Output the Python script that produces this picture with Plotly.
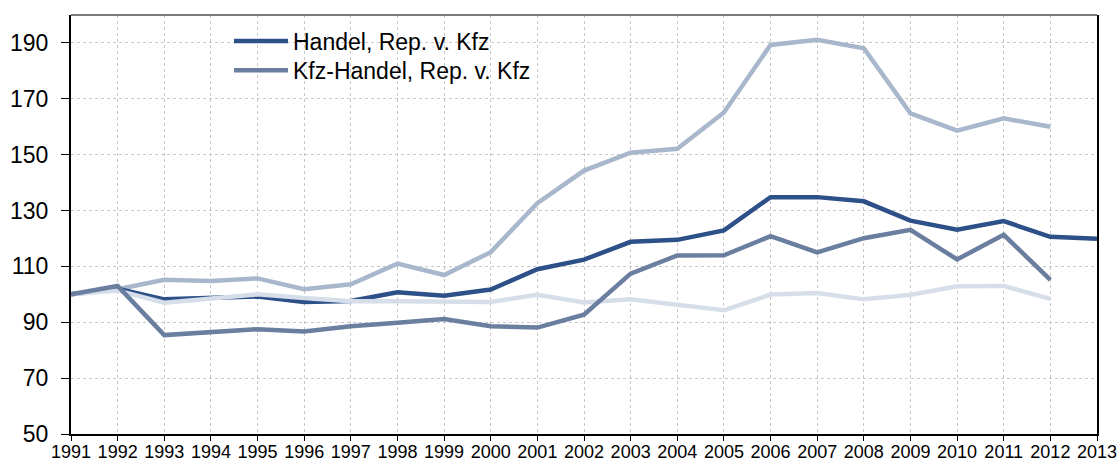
import plotly.graph_objects as go

years = list(range(1991, 2014))
years_12 = list(range(1991, 2013))

handel = [100, 102, 98.2, 98.7, 99.2, 97.3, 97.6, 100.7, 99.5, 101.7, 109.0, 112.4,
          118.8, 119.5, 122.9, 134.8, 134.8, 133.3, 126.4, 123.1, 126.2, 120.6, 119.9]
kfz_handel = [100, 103.0, 85.4, 86.6, 87.5, 86.7, 88.6, 89.8, 91.2, 88.6, 88.1, 92.7,
              107.4, 113.9, 114.0, 120.8, 115.0, 120.1, 123.1, 112.5, 121.3, 105.2]
series_light = [100, 101.8, 105.2, 104.8, 105.7, 101.8, 103.6, 111.0, 106.9, 115.1, 132.6, 144.3,
                150.7, 152.1, 165.1, 189.3, 191.1, 188.1, 164.8, 158.6, 163.0, 160.0]
series_pale = [100, 101.4, 97.0, 98.4, 100.0, 98.7, 97.5, 97.5, 97.5, 97.3, 99.8, 97.1,
               98.2, 96.3, 94.3, 99.9, 100.5, 98.2, 99.8, 102.9, 103.0, 98.4]

names = ["Handel, Rep. v. Kfz", "Kfz-Handel, Rep. v. Kfz", "Reihe 3", "Reihe 4"]
colors = ["#2d5088", "#6a7ea0", "#a8b7cb", "#d6dee9"]

y_ticks = [50, 70, 90, 110, 130, 150, 170, 190]

LW = 4.5
fig = go.Figure()
fig.add_trace(go.Scatter(x=years_12, y=series_light, mode="lines", name=names[2],
                         line=dict(color=colors[2], width=LW), showlegend=False))
fig.add_trace(go.Scatter(x=years, y=handel, mode="lines", name=names[0],
                         line=dict(color=colors[0], width=LW), legend="legend"))
fig.add_trace(go.Scatter(x=years_12, y=series_pale, mode="lines", name=names[3],
                         line=dict(color=colors[3], width=LW), showlegend=False))
fig.add_trace(go.Scatter(x=years_12, y=kfz_handel, mode="lines", name=names[1],
                         line=dict(color=colors[1], width=LW), legend="legend2"))

# white patch behind the legend (hides the grid there)
fig.add_shape(type="rect", xref="paper", yref="paper", x0=0.009, x1=0.603, y0=0.826, y1=0.986,
              fillcolor="white", line=dict(width=0), layer="between")
# grey top border
fig.add_shape(type="line", xref="paper", yref="paper", x0=0, x1=1, y0=1, y1=1,
              line=dict(color="#7a7a7a", width=2), layer="above")

leg_common = dict(xanchor="left", yanchor="middle", bgcolor="rgba(0,0,0,0)", borderwidth=0,
                  font=dict(size=23, color="#000000"), itemwidth=54)
fig.update_layout(
    width=1118, height=466,
    margin=dict(l=71, r=21, t=15, b=32, autoexpand=False),
    paper_bgcolor="white", plot_bgcolor="white",
    font=dict(family="Liberation Sans, Arial, sans-serif", color="#000000"),
    legend=dict(x=0.154, y=0.9376, **leg_common),
    legend2=dict(x=0.154, y=0.868, **leg_common),
)
fig.update_xaxes(
    range=[1991, 2013], tickmode="array", tickvals=years, ticktext=[str(y) for y in years],
    tickfont=dict(size=18), ticks="outside", ticklen=5, tickcolor="#000000", tickwidth=1,
    showline=True, linecolor="#000000", linewidth=2, automargin=False,
    showgrid=True, gridcolor="#c8c8c8", gridwidth=1, griddash="dot", zeroline=False,
    ticklabelstandoff=-5,
)
fig.update_yaxes(
    range=[50, 200], tickmode="array", tickvals=y_ticks, ticktext=[str(v) for v in y_ticks],
    tickfont=dict(size=23), ticks="outside", ticklen=8, tickcolor="#000000", tickwidth=1,
    showline=True, linecolor="#000000", linewidth=2, mirror=True, automargin=False,
    showgrid=True, gridcolor="#c8c8c8", gridwidth=1, griddash="dot", zeroline=False,
    ticklabelstandoff=8,
)

# remove the browser's default 8px page margin so the figure fills the window exactly
fig.write_html("out.html", config={"displayModeBar": False},
               post_script="document.body.style.margin='0';document.body.style.overflow='hidden';")
